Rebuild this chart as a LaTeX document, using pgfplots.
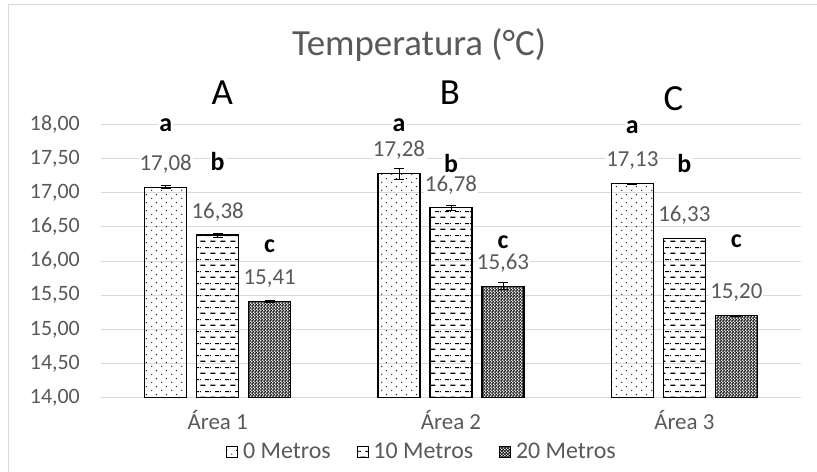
\documentclass[border=0pt]{standalone}
\usepackage{fontspec}
\setmainfont{Carlito}
\usepackage{pgfplots}
\pgfplotsset{compat=1.18}
\usetikzlibrary{patterns.meta}
\definecolor{txtgray}{RGB}{89,89,89}
\definecolor{gridgray}{RGB}{217,217,217}
\tikzdeclarepattern{
  name=mydots, type=uncolored,
  bottom left={(0,0)}, top right={(10bp,8bp)},
  tile size={(10bp,8bp)},
  code={
    \fill (2bp,2bp) circle (0.7bp);
    \fill (7bp,6bp) circle (0.7bp);
  }
}
\tikzdeclarepattern{
  name=hdash, type=uncolored,
  bottom left={(0,0)}, top right={(10bp,12bp)},
  tile size={(10bp,12bp)},
  code={
    \draw[line width=1.2bp] (0.5bp,3bp) -- (6bp,3bp);
    \draw[line width=1.2bp] (5.5bp,9bp) -- (10bp,9bp);
    \draw[line width=1.2bp] (0bp,9bp) -- (1bp,9bp);
  }
}
\tikzdeclarepattern{
  name=densex, type=uncolored,
  bottom left={(0,0)}, top right={(3.2bp,3.2bp)},
  tile size={(3.2bp,3.2bp)},
  code={
    \draw[line width=0.75bp] (0,0) -- (3.2bp,3.2bp);
    \draw[line width=0.75bp] (0,3.2bp) -- (3.2bp,0);
  }
}
\begin{document}
\begin{tikzpicture}
\path[use as bounding box] (0,0) rectangle (817bp,472bp);
\fill[white] (0,0) rectangle (817bp,472bp);
\draw[gridgray, line width=1bp] (8bp,-2bp) rectangle (819bp,467bp);
\node[text=txtgray, font=\fontsize{37}{40}\selectfont] at (419bp,427bp) {Temperatura (°C)};
\begin{axis}[
  at={(101bp,74.3bp)}, anchor=south west,
  scale only axis, width=700bp, height=273.4bp,
  ymin=14, ymax=18, ytick={14,14.5,...,18},
  xmin=-0.5, xmax=2.5,
  xtick=data, xticklabels={Área 1,Área 2,Área 3},
  ybar=10bp, bar width=42bp,
  axis line style={draw=none},
  major tick length=0pt,
  ymajorgrids, grid style={gridgray, line width=1bp},
  clip=false,
  /pgf/number format/.cd, fixed, fixed zerofill, precision=2, use comma, assume math mode=true,
  /pgfplots/.cd,
  yticklabel style={text=txtgray, font=\fontsize{22}{26}\selectfont, inner sep=0pt, xshift=-21bp},
  xticklabel style={text=txtgray, font=\fontsize{23}{26}\selectfont, inner sep=0pt, yshift=-12bp},
  nodes near coords={\pgfmathprintnumber{\pgfplotspointmeta}},
  every node near coord/.append style={anchor=center, yshift=23bp, fill=white, inner sep=1bp,
     text=txtgray, font=\fontsize{23}{26}\selectfont},
  error bars/y dir=both, error bars/y explicit,
  error bars/error bar style={black, line width=0.8bp},
  error bars/error mark options={rotate=90, mark size=5bp, black, line width=0.8bp},
  legend columns=3,
  legend style={at={(axis description cs:0.4586,0)}, anchor=center, yshift=-54bp,
     draw=none, fill=none, font=\fontsize{24}{26}\selectfont, text=txtgray,
     /tikz/every odd column/.append style={column sep=3bp},
     /tikz/every even column/.append style={column sep=24bp}},
  legend image code/.code={\draw[#1, line width=0.8bp] (0bp,-5.5bp) rectangle (11bp,5.5bp);},
]
\addplot[draw=black, line width=1.2bp, pattern=mydots] coordinates {
  (0,17.08) +- (0,0.02)
  (1,17.28) +- (0,0.08)
  (2,17.13) +- (0,0.01)
};
\addplot[draw=black, line width=1.2bp, pattern=hdash] coordinates {
  (0,16.38) +- (0,0.03)
  (1,16.78) +- (0,0.04)
  (2,16.33) +- (0,0.005)
};
\addplot[draw=black, line width=1.2bp, pattern=densex] coordinates {
  (0,15.41) +- (0,0.01)
  (1,15.63) +- (0,0.05)
  (2,15.20) +- (0,0.01)
};
\legend{0 Metros,10 Metros,20 Metros}
% significance letters
\tikzset{sig/.style={fill=white, inner sep=1bp, text=black, font=\fontsize{26}{30}\selectfont\bfseries}}
\node[sig] at ([xshift=-52bp]axis cs:0,17.99) {a};
\node[sig] at ([xshift=0bp]axis cs:0,17.46) {b};
\node[sig] at ([xshift=52bp]axis cs:0,16.22) {c};
\node[sig] at ([xshift=-52bp]axis cs:1,17.99) {a};
\node[sig] at ([xshift=0bp]axis cs:1,17.42) {b};
\node[sig] at ([xshift=52bp]axis cs:1,16.27) {c};
\node[sig] at ([xshift=-52bp]axis cs:2,17.96) {a};
\node[sig] at ([xshift=0bp]axis cs:2,17.43) {b};
\node[sig] at ([xshift=52bp]axis cs:2,16.29) {c};
\tikzset{grp/.style={text=black, font=\fontsize{37}{40}\selectfont}}
\node[grp] at (axis cs:0.02,18.47) {A};
\node[grp] at (axis cs:0.995,18.47) {B};
\node[grp] at (axis cs:1.953,18.37) {C};
\end{axis}
\end{tikzpicture}
\end{document}
